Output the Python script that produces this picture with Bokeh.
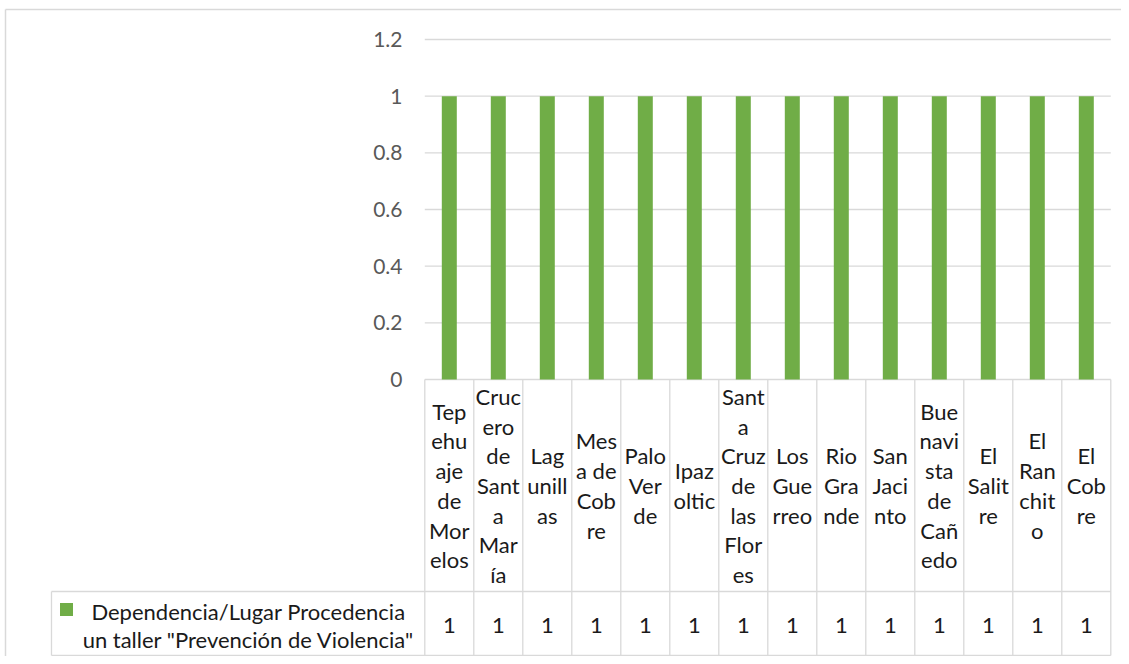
from bokeh.plotting import figure
from bokeh.models import Range1d
from bokeh.core.properties import value
from bokeh.embed import file_html
from bokeh.resources import INLINE

# ---- data ----
categories = ["Tepehuaje de Morelos", "Crucero de Santa María", "Lagunillas",
              "Mesa de Cobre", "Palo Verde", "Ipazoltic", "Santa Cruz de las Flores",
              "Los Guerreo", "Rio Grande", "San Jacinto", "Buenavista de Cañedo",
              "El Salitre", "El Ranchito", "El Cobre"]
cat_labels = ["Tep\nehu\naje\nde\nMor\nelos", "Cruc\nero\nde\nSant\na\nMar\nía",
              "Lag\nunill\nas", "Mes\na de\nCob\nre", "Palo\nVer\nde", "Ipaz\noltic",
              "Sant\na\nCruz\nde\nlas\nFlor\nes", "Los\nGue\nrreo", "Rio\nGra\nnde",
              "San\nJaci\nnto", "Bue\nnavi\nsta\nde\nCañ\nedo", "El\nSalit\nre",
              "El\nRan\nchit\no", "El\nCob\nre"]
values = [1, 1, 1, 1, 1, 1, 1, 1, 1, 1, 1, 1, 1, 1]
series_name = 'Dependencia/Lugar Procedencia\nun taller "Prevención de Violencia"'
y_ticks = [0, 0.2, 0.4, 0.6, 0.8, 1.0, 1.2]
y_tick_labels = ["0", "0.2", "0.4", "0.6", "0.8", "1", "1.2"]

# ---- layout constants (screen geometry, canvas pixels) ----
W, H = 1121, 656
COL_PX = 49.0            # px per category column
ZERO_X_PX = 424.3        # canvas x of first column border
UNIT_Y_PX = 283.33       # px per 1.0 on value axis
ZERO_Y_PX = 379.0        # canvas y of value 0
x0 = -ZERO_X_PX / COL_PX
x1 = x0 + W / COL_PX
y1 = ZERO_Y_PX / UNIT_Y_PX
y0 = y1 - H / UNIT_Y_PX


def gx(px):
    return (px - ZERO_X_PX) / COL_PX


def gy(px):
    return -(px - ZERO_Y_PX) / UNIT_Y_PX


row_top = gy(591)
row_bot = gy(655)
cat_mid = gy(485)
row_mid = gy(625)
leg_left = gx(51)
leg_text_x = gx(248)
leg_sq_x = gx(66)
leg_sq_y = gy(609)
tick_x = gx(402)
border_x = gx(5)
border_y = gy(9)

GREEN = "#70AD47"
LINE = "#D9D9D9"
FONT = value("Lato")

p = figure(width=W, height=H, x_range=Range1d(x0, x1), y_range=Range1d(y0, y1),
           x_axis_type=None, y_axis_type=None, min_border=0,
           output_backend="svg", toolbar_location=None)
p.outline_line_color = None
p.background_fill_color = "white"
p.border_fill_color = "white"

n = len(categories)
xs = [i + 0.5 for i in range(n)]

# outer chart border (left and top visible)
p.segment(x0=[border_x, border_x], y0=[y0, border_y], x1=[border_x, x1], y1=[border_y, border_y],
          line_color=LINE, line_width=1.5)

# gridlines
p.segment(x0=[0] * len(y_ticks), y0=y_ticks, x1=[n] * len(y_ticks), y1=y_ticks,
          line_color=LINE, line_width=1.3)

# tick labels
p.text(x=[tick_x] * len(y_ticks), y=y_ticks, text=y_tick_labels,
       text_align="right", text_baseline="middle", text_font=FONT,
       text_font_size="21px", text_color="#595959")

# bars
p.vbar(x=xs, top=values, bottom=0, width=0.306, fill_color=GREEN, line_color=None)

# data table lines
p.segment(x0=list(range(n + 1)), y0=[0] * (n + 1), x1=list(range(n + 1)), y1=[row_bot] * (n + 1),
          line_color=LINE, line_width=1.3)
p.segment(x0=[leg_left, leg_left, leg_left], y0=[row_top, row_bot, row_top],
          x1=[n, n, leg_left], y1=[row_top, row_bot, row_bot],
          line_color=LINE, line_width=1.3)

# category labels
p.text(x=xs, y=[cat_mid] * n, text=cat_labels, text_align="center", text_baseline="middle",
       text_font=FONT, text_font_size="22px", text_color="#1A1A1A", text_line_height=1.1)

# values row
p.text(x=xs, y=[row_mid] * n, text=[str(v) for v in values], text_align="center",
       text_baseline="middle", text_font=FONT, text_font_size="22px", text_color="#1A1A1A")

# legend key + series name
p.scatter(x=[leg_sq_x], y=[leg_sq_y], marker="square", size=13, fill_color=GREEN, line_color=None)
p.text(x=[leg_text_x], y=[row_mid], text=[series_name], text_align="center",
       text_baseline="middle", text_font=FONT, text_font_size="22px", text_color="#1A1A1A",
       text_line_height=1.07)

open("out.html", "w").write(file_html(p, INLINE))
